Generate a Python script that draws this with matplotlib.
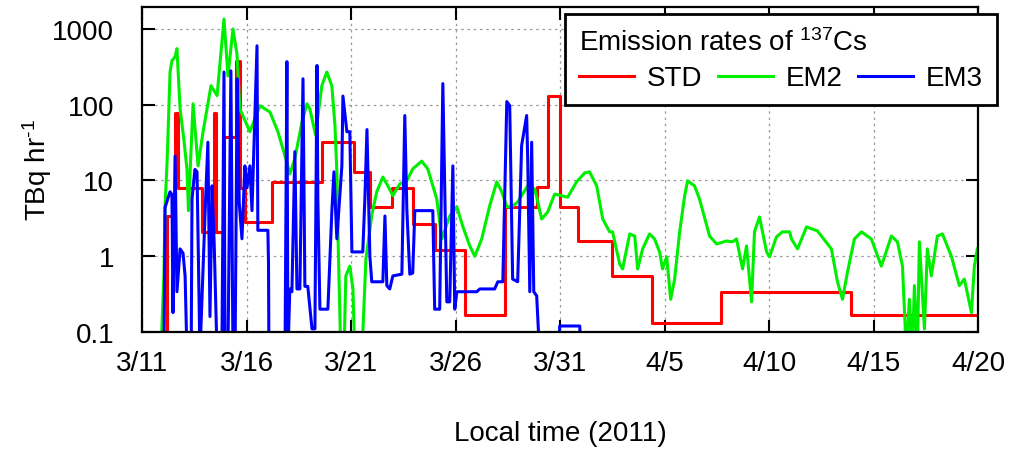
import matplotlib
matplotlib.use("Agg")
import matplotlib.pyplot as plt

plt.rcParams['font.family'] = 'Liberation Sans'
plt.rcParams['mathtext.fontset'] = 'custom'
plt.rcParams['mathtext.rm'] = 'Liberation Sans'
plt.rcParams['mathtext.default'] = 'regular'
plt.rcParams['axes.unicode_minus'] = False

# days since 3/11 00:00 local time, emission rate in TBq/hr
# (0.05 = below the plotted range)
std_days = [1.1, 1.2, 1.6, 1.72, 2.87, 3.44, 3.54, 3.9, 4.5, 4.68, 4.92, 6.21,
            8.6, 10.13, 10.9, 11.95, 12.95, 14.0, 15.44, 17.35, 18.88, 19.4,
            19.98, 20.84, 22.47, 24.38, 27.72, 33.94, 40.0]
std_vals = [0.01, 3.4, 77, 8, 2.1, 77, 2.1, 37, 380, 8, 2.8, 9.5,
            32, 13, 4.5, 8, 2.7, 1.2, 0.17, 4.5, 8.3, 130,
            4.5, 1.6, 0.55, 0.13, 0.34, 0.17, 0.17]

em2_days = [0.9, 1.05, 1.1, 1.2, 1.34, 1.43, 1.58, 1.67, 1.82, 2.0, 2.15, 2.22,
            2.44, 2.68, 2.92, 3.3, 3.59, 3.92, 4.11, 4.35, 4.54, 4.68, 5.16, 5.64,
            6.12, 6.5, 6.84, 7.07, 7.31, 7.65, 7.89, 8.03, 8.3, 8.6, 8.84, 9.08,
            9.23, 9.32, 9.37, 9.51, 9.66, 9.75, 9.94, 10.09, 10.18, 10.47, 10.52,
            10.71, 11.0, 11.23, 11.52, 11.76, 12.0, 12.33, 12.67, 12.95, 13.38,
            13.67, 13.91, 14.1, 14.34, 14.72, 15.06, 15.34, 15.68, 15.92, 16.25,
            16.63, 16.97, 17.21, 17.45, 17.69, 17.97, 18.45, 18.79, 19.12, 19.41,
            19.74, 20.08, 20.36, 20.79, 21.18, 21.41, 21.75, 22.04, 22.37, 22.51,
            22.85, 22.99, 23.33, 23.57, 23.71, 23.95, 24.28, 24.52, 24.76, 24.9,
            25.1, 25.29, 25.48, 25.72, 25.96, 26.1, 26.43, 26.67, 27.15, 27.49,
            27.96, 28.25, 28.44, 28.73, 28.92, 29.16, 29.3, 29.54, 29.88, 30.02,
            30.35, 30.64, 30.98, 31.07, 31.36, 31.79, 32.31, 32.98, 33.27, 33.51,
            33.75, 34.08, 34.42, 34.89, 35.37, 35.85, 36.14, 36.38, 36.57, 36.71,
            36.85, 36.95, 37.09, 37.19, 37.43, 37.57, 37.76, 38.05, 38.29, 38.72,
            39.1, 39.34, 39.68, 39.82, 39.96]
em2_vals = [0.05, 0.62, 4.6, 18, 270, 380, 430, 550, 88, 35, 14, 4,
            103, 15.6, 44, 178, 132, 1350, 240, 1000, 470, 88, 44, 97,
            80, 44, 21, 12.2, 19.3, 59, 103, 88, 40, 178, 270, 178,
            53, 13, 2.1, 0.05, 0.05, 0.55, 0.74, 0.37, 0.05, 0.05, 0.05,
            0.92, 3.6, 7.1, 11.1, 8.5, 6.3, 9.0, 9.9, 14.2, 18,
            14.2, 8.5, 5.7, 1.69, 3.4, 4.5, 2.5, 1.37, 1.0, 1.69,
            4.6, 9.6, 7.1, 4.5, 4.5, 5.2, 8.5, 7.7, 3.1, 3.85,
            6.6, 6.3, 6.0, 9.6, 12.6, 13, 8.5, 3.1, 2.1, 2.1,
            0.79, 0.68, 1.97, 1.85, 0.68, 1.25, 1.97, 1.69, 1.14, 0.68,
            0.98, 0.27, 0.5, 2.1, 6.3, 9.9, 8.5, 5.7, 1.85, 1.45,
            1.59, 1.55, 1.69, 0.68, 1.37, 0.25, 2.1, 3.3, 1.14, 0.98,
            1.8, 2.1, 2.1, 1.69, 1.25, 2.44, 2.16, 1.25, 0.46, 0.27,
            0.62, 1.69, 2.1, 1.69, 0.74, 1.85, 1.55, 0.74, 0.05, 0.27,
            0.05, 0.41, 0.05, 1.55, 0.11, 1.25, 0.55, 1.85, 1.97, 1.0,
            0.41, 0.5, 0.18, 0.74, 1.25]

em3_days = [1.05, 1.1, 1.34, 1.43, 1.48, 1.58, 1.67, 1.82, 1.96, 2.06, 2.15, 2.35,
            2.39, 2.53, 2.63, 2.77, 3.01, 3.15, 3.25, 3.35, 3.45, 3.59, 3.82, 3.92,
            3.97, 4.11, 4.25, 4.35, 4.45, 4.55, 4.65, 4.78, 4.92, 5.02, 5.16, 5.26,
            5.5, 5.54, 6.02, 6.05, 6.07, 6.84, 6.93, 6.98, 7.07, 7.17, 7.31, 7.41,
            7.55, 7.7, 7.79, 7.93, 8.13, 8.27, 8.37, 8.41, 8.51, 8.89, 9.08, 9.18,
            9.32, 9.56, 9.61, 9.8, 9.94, 10.04, 10.56, 10.66, 10.76, 10.9, 10.99,
            11.52, 11.62, 11.71, 11.85, 12.0, 12.43, 12.57, 12.67, 12.81, 12.95,
            13.05, 13.91, 14.0, 14.24, 14.39, 14.58, 14.72, 14.87, 14.96, 15.06,
            16.01, 16.16, 16.63, 16.87, 17.02, 17.26, 17.45, 17.59, 17.73, 17.97,
            18.16, 18.4, 18.45, 18.55, 18.64, 18.74, 18.88, 19.02, 19.95, 19.98,
            20.94, 21.0]
em3_vals = [0.05, 4.4, 7.1, 6.5, 0.18, 21, 0.34, 1.25, 1.1, 0.55, 0.05, 0.05,
            5.7, 14, 13, 0.05, 3.4, 32, 0.16, 8.5, 1.5, 0.05, 0.05, 270,
            0.05, 0.05, 280, 0.05, 0.05, 220, 5, 1.7, 15.6, 8, 15.6, 4,
            600, 2.2, 2.2, 0.8, 0.05, 0.05, 370, 0.05, 0.37, 0.34, 24, 0.37,
            0.37, 220, 0.4, 0.4, 0.11, 0.11, 330, 5.7, 0.2, 0.2, 3.9, 13,
            1.7, 15.6, 130, 44, 44, 1.14, 1.14, 5.7, 47, 1.0, 0.46,
            0.46, 3.4, 0.41, 0.37, 0.55, 0.58, 72, 4.0, 0.58, 0.6,
            4.0, 4.0, 0.2, 0.2, 190, 0.25, 0.25, 15.6, 0.2, 0.34,
            0.34, 0.37, 0.37, 0.37, 0.46, 0.46, 110, 97, 0.5, 0.46,
            29, 72, 20, 0.34, 32, 0.34, 0.3, 0.05, 0.05, 0.12,
            0.12, 0.05]

tick_days = [0, 5, 10, 15, 20, 25, 30, 35, 40]
tick_labels = ['3/11', '3/16', '3/21', '3/26', '3/31', '4/5', '4/10', '4/15', '4/20']
y_ticks = [0.1, 1, 10, 100, 1000]
y_labels = ['0.1', '1', '10', '100', '1000']

fig = plt.figure(figsize=(10.11, 4.52), dpi=100)
ax = fig.add_axes([0.1405, 0.2633, 0.827, 0.719])

l1, = ax.plot(std_days, std_vals, color='#ff0000', lw=2.2, drawstyle='steps-post')
l2, = ax.plot(em2_days, em2_vals, color='#00ee00', lw=2.2)
l3, = ax.plot(em3_days, em3_vals, color='#0000ff', lw=2.2)

ax.set_yscale('log')
ax.set_xlim(0, 40)
ax.set_ylim(0.1, 1950)
ax.set_xticks(tick_days)
ax.set_xticklabels(tick_labels)
ax.set_yticks(y_ticks)
ax.set_yticklabels(y_labels)
ax.minorticks_off()

ax.tick_params(axis='both', which='major', direction='in', length=9, width=1.5,
               top=True, right=True, labelsize=20)
ax.tick_params(axis='y', pad=20)
ax.tick_params(axis='x', pad=13)
for s in ax.spines.values():
    s.set_linewidth(1.6)

ax.grid(True, color='#999999', linestyle=(0, (2, 3)), linewidth=0.9)

ax.set_xlabel('Local time (2011)', fontsize=20)
ax.xaxis.set_label_coords(0.5, -0.27)
ax.set_ylabel(r'TBq hr$^{\text{-}1}$', fontsize=20)
ax.yaxis.label.set_va('center')
ax.yaxis.set_label_coords(-0.126, 0.5)

leg = ax.legend([l1, l2, l3], ['STD', 'EM2', 'EM3'], ncol=3,
                title='Emission rates of $^{137}$Cs', title_fontsize=20, fontsize=20,
                loc='upper right', bbox_to_anchor=(0.986, 0.967),
                bbox_transform=fig.transFigure, alignment='left',
                fancybox=False, framealpha=1, edgecolor='black',
                handlelength=2.0, handletextpad=0.45, columnspacing=0.55,
                borderpad=0.5, labelspacing=0.35, borderaxespad=0)
leg.get_frame().set_linewidth(2)

fig.savefig('out.png', dpi=100)
